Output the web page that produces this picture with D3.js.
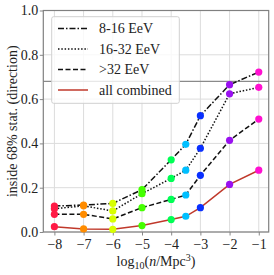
<!DOCTYPE html>
<html>
<head>
<meta charset="utf-8">
<script src="https://cdn.jsdelivr.net/npm/d3@7"></script>
<style>
body { margin: 0; background: #fff; }
text { font-family: "Liberation Serif", "DejaVu Serif", serif; fill: #222; }
</style>
</head>
<body>
<script>
var density = [-8, -7, -6, -5, -4, -3.5, -3, -2, -1];
var e8to16 = [0.117, 0.122, 0.129, 0.191, 0.326, 0.396, 0.525, 0.665, 0.722];
var e16to32 = [0.105, 0.118, 0.095, 0.173, 0.242, 0.279, 0.378, 0.624, 0.653];
var e32up = [0.080, 0.080, 0.059, 0.110, 0.147, 0.167, 0.256, 0.414, 0.510];
var combined = [0.024, 0.014, 0.012, 0.029, 0.056, 0.071, 0.110, 0.215, 0.279];
var xTicks = [-8, -7, -6, -5, -4, -3, -2, -1];
var yTicks = [0, 0.2, 0.4, 0.6, 0.8, 1.0];
var threshold = 0.68;

var pointColors = ["#ff1a45", "#ff8c00", "#d8ff00", "#44ff00", "#00ff55", "#00bfff", "#0a30ff", "#9a10f0", "#ff10d0"];

var series = [
  {name: "8-16 EeV", values: e8to16, dash: "6,2,1.5,2", color: "#111"},
  {name: "16-32 EeV", values: e16to32, dash: "1.5,1.8", color: "#111"},
  {name: ">32 EeV", values: e32up, dash: "5,2.5", color: "#111"},
  {name: "all combined", values: combined, dash: null, color: "#c0392b"}
];

var W = 274, H = 275;
var pLeft = 43.3, pRight = 268.7, pTop = 10.5, pBottom = 232;

var svg = d3.select("body").append("svg").attr("width", W).attr("height", H);

var x = d3.scaleLinear().domain([-8.38, -0.66]).range([pLeft, pRight]);
var y = d3.scaleLinear().domain([0, 1]).range([pBottom, pTop]);

// grid
svg.selectAll("line.gx").data(xTicks).enter().append("line")
  .attr("x1", d => x(d)).attr("x2", d => x(d))
  .attr("y1", pTop).attr("y2", pBottom)
  .attr("stroke", "#dcdcdc").attr("stroke-width", 1);
svg.selectAll("line.gy").data(yTicks).enter().append("line")
  .attr("x1", pLeft).attr("x2", pRight)
  .attr("y1", d => y(d)).attr("y2", d => y(d))
  .attr("stroke", "#dcdcdc").attr("stroke-width", 1);

svg.append("line")
  .attr("x1", pLeft).attr("x2", pRight)
  .attr("y1", y(threshold)).attr("y2", y(threshold))
  .attr("stroke", "#8a8a8a").attr("stroke-width", 1.2);

// axes
var xAxis = svg.append("g").attr("transform", "translate(0," + pBottom + ")")
  .call(d3.axisBottom(x).tickValues(xTicks).tickSize(3.5).tickFormat(d => "\u2212" + Math.abs(d)));
var yAxis = svg.append("g").attr("transform", "translate(" + pLeft + ",0)")
  .call(d3.axisLeft(y).tickValues(yTicks).tickSize(3.5).tickFormat(d3.format(".1f")));
[xAxis, yAxis].forEach(function(g) {
  g.select(".domain").remove();
  g.selectAll(".tick line").attr("stroke", "#888");
  g.selectAll(".tick text").attr("font-size", 14).attr("fill", "#222")
    .style("font-family", "'Liberation Serif', serif");
});
xAxis.selectAll(".tick text").attr("dy", "0.71em").attr("y", 7);
yAxis.selectAll(".tick text").attr("x", -5);

svg.append("rect").attr("x", pLeft).attr("y", pTop)
  .attr("width", pRight - pLeft).attr("height", pBottom - pTop)
  .attr("fill", "none").attr("stroke", "#808080").attr("stroke-width", 1.2);

// lines and points
var line = d3.line().x((d, i) => x(density[i])).y(d => y(d));
series.forEach(function(s) {
  svg.append("path").datum(s.values)
    .attr("d", line)
    .attr("fill", "none")
    .attr("stroke", s.color)
    .attr("stroke-width", 1.5)
    .attr("stroke-dasharray", s.dash);
  svg.append("g").selectAll("circle").data(s.values).enter().append("circle")
    .attr("cx", (d, i) => x(density[i]))
    .attr("cy", d => y(d))
    .attr("r", 3.6)
    .attr("fill", (d, i) => pointColors[i]);
});

// legend
var lg = svg.append("g");
lg.append("rect").attr("x", 51.7).attr("y", 16.7).attr("width", 127.6).attr("height", 86.6)
  .attr("rx", 2).attr("fill", "#fff").attr("fill-opacity", 0.8)
  .attr("stroke", "#d0d0d0").attr("stroke-width", 1);
series.forEach(function(s, i) {
  var ly = 28.5 + i * 20.5;
  lg.append("line").attr("x1", 58).attr("x2", 88).attr("y1", ly).attr("y2", ly)
    .attr("stroke", s.color).attr("stroke-width", 1.5).attr("stroke-dasharray", s.dash);
  lg.append("text").attr("x", 99).attr("y", ly + 4.8).attr("font-size", 14).text(s.name);
});

// labels
var xl = svg.append("text").attr("x", 156).attr("y", 266).attr("text-anchor", "middle").attr("font-size", 14);
xl.append("tspan").text("log");
xl.append("tspan").attr("font-size", 10).attr("dy", 3).text("10");
xl.append("tspan").attr("dy", -3).text("(");
xl.append("tspan").attr("font-style", "italic").text("n");
xl.append("tspan").text("/Mpc");
xl.append("tspan").attr("font-size", 10).attr("dy", -5).text("3");
xl.append("tspan").attr("dy", 5).text(")");

svg.append("text")
  .attr("transform", "translate(17," + ((pTop + pBottom) / 2) + ") rotate(-90)")
  .attr("text-anchor", "middle").attr("font-size", 14)
  .text("inside 68% stat. (direction)");
</script>
</body>
</html>
